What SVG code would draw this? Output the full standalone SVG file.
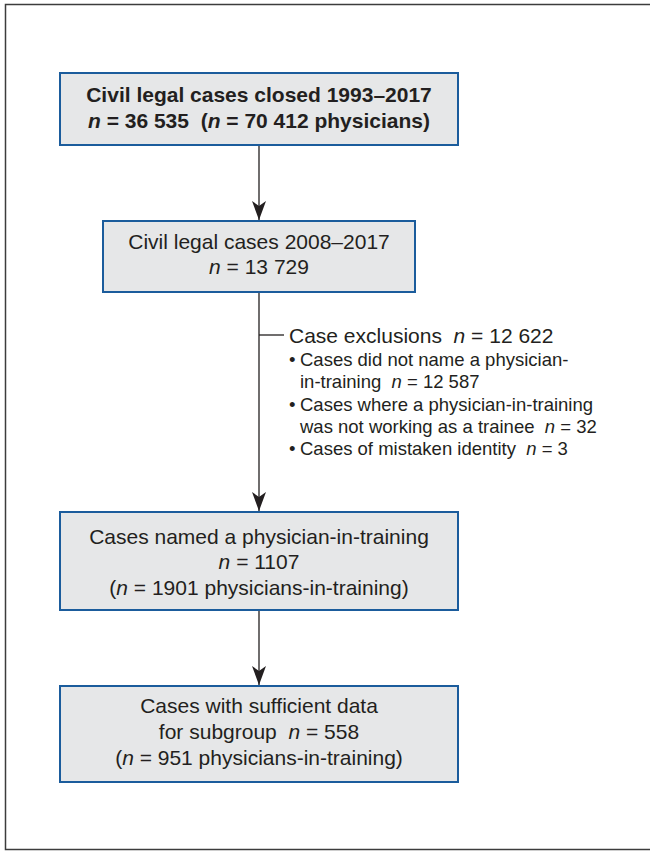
<svg xmlns="http://www.w3.org/2000/svg" width="650" height="851" viewBox="0 0 650 851">
<style>
  .box { fill: #e6e7e8; stroke: #1b5c9c; stroke-width: 2; }
  .t { font-family: "Liberation Sans", Arial, sans-serif; font-size: 21px; fill: #231f20; text-anchor: middle; }
  .b { font-weight: bold; }
  .s { font-family: "Liberation Sans", Arial, sans-serif; font-size: 18.5px; fill: #231f20; }
  .h { font-family: "Liberation Sans", Arial, sans-serif; font-size: 21px; fill: #231f20; }
  .i { font-style: italic; }
  .edge { stroke: #231f20; stroke-width: 1.3; fill: none; }
  .frame { fill: none; stroke: #3c3c3c; stroke-width: 1.5; }
</style>
<defs>
  <marker id="arrow" markerUnits="userSpaceOnUse" markerWidth="20" markerHeight="14" viewBox="0 0 20 14" refX="19" refY="7" orient="auto">
    <path d="M0,0 L19,7 L0,14 L5,7 Z" fill="#231f20"/>
  </marker>
</defs>
<rect class="frame" x="5.5" y="4.5" width="700" height="845"/>

<g id="connectors">
  <line class="edge" x1="259" y1="145" x2="259" y2="220" marker-end="url(#arrow)"/>
  <line class="edge" x1="259" y1="292" x2="259" y2="511" marker-end="url(#arrow)"/>
  <line class="edge" x1="259" y1="335" x2="284" y2="335"/>
  <line class="edge" x1="259" y1="610" x2="259" y2="685" marker-end="url(#arrow)"/>
</g>

<g id="node1">
  <rect class="box" x="60" y="73" width="398" height="72"/>
  <text class="t b" x="259" y="102">Civil legal cases closed 1993–2017</text>
  <text class="t b" x="259" y="128"><tspan class="i">n</tspan> = 36 535 &#160;(<tspan class="i">n</tspan> = 70 412 physicians)</text>
</g>

<g id="node2">
  <rect class="box" x="103" y="221" width="312" height="71"/>
  <text class="t" x="259" y="249">Civil legal cases 2008–2017</text>
  <text class="t" x="259" y="274"><tspan class="i">n</tspan> = 13 729</text>
</g>

<g id="exclusions">
  <text class="h" x="289" y="343">Case exclusions &#160;<tspan class="i">n</tspan> = 12 622</text>
  <text class="s" x="289" y="366">•</text>
  <text class="s" x="300" y="366">Cases did not name a physician-</text>
  <text class="s" x="300" y="388">in-training &#160;<tspan class="i">n</tspan> = 12 587</text>
  <text class="s" x="289" y="411">•</text>
  <text class="s" x="300" y="411">Cases where a physician-in-training</text>
  <text class="s" x="300" y="433">was not working as a trainee &#160;<tspan class="i">n</tspan> = 32</text>
  <text class="s" x="289" y="455">•</text>
  <text class="s" x="300" y="455">Cases of mistaken identity &#160;<tspan class="i">n</tspan> = 3</text>
</g>

<g id="node3">
  <rect class="box" x="60" y="512" width="398" height="98"/>
  <text class="t" x="259" y="544">Cases named a physician-in-training</text>
  <text class="t" x="259" y="569"><tspan class="i">n</tspan> = 1107</text>
  <text class="t" x="259" y="595">(<tspan class="i">n</tspan> = 1901 physicians-in-training)</text>
</g>

<g id="node4">
  <rect class="box" x="60" y="686" width="398" height="96"/>
  <text class="t" x="259" y="713">Cases with sufficient data</text>
  <text class="t" x="259" y="739">for subgroup &#160;<tspan class="i">n</tspan> = 558</text>
  <text class="t" x="259" y="765">(<tspan class="i">n</tspan> = 951 physicians-in-training)</text>
</g>
</svg>
